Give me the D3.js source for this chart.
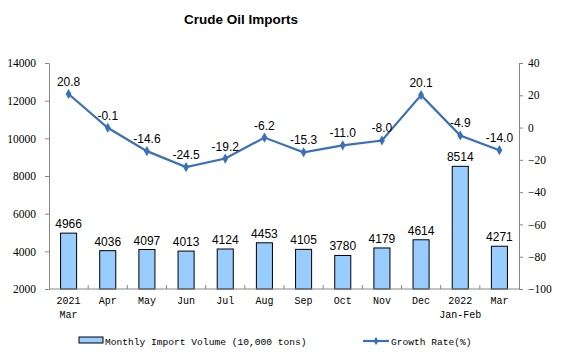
<!DOCTYPE html>
<html><head><meta charset="utf-8">
<script src="https://cdn.jsdelivr.net/npm/d3@7"></script>
<style>body{margin:0;background:#fff}svg{display:block}</style>
</head><body><svg id="c" width="561" height="357"></svg>
<script>
const categories = ["2021\nMar","Apr","May","Jun","Jul","Aug","Sep","Oct","Nov","Dec","2022\nJan-Feb","Mar"];
const importVolume = [4966,4036,4097,4013,4124,4453,4105,3780,4179,4614,8514,4271];
const growthRate = [20.8,-0.1,-14.6,-24.5,-19.2,-6.2,-15.3,-11.0,-8.0,20.1,-4.9,-14.0];
const leftTicks = [2000,4000,6000,8000,10000,12000,14000];
const rightTicks = [-100,-80,-60,-40,-20,0,20,40];

const svg = d3.select("#c");
const L = 49, R = 519, T = 63, B = 289;
const x = d3.scaleBand().domain(d3.range(categories.length)).range([L, R]).paddingInner(0.59).paddingOuter(0.295);
const xb = d3.scaleBand().domain(d3.range(categories.length)).range([L, R]);
const yL = d3.scaleLinear().domain([2000,14000]).range([B, T]);
const yR = d3.scaleLinear().domain([-100,40]).range([B, T]);
const axisCol = "#868686";

svg.append("text").attr("x",241).attr("y",24).attr("text-anchor","middle")
  .attr("font-family","Liberation Sans, Arial").attr("font-weight","bold").attr("font-size",13.5).text("Crude Oil Imports");

const gl = svg.append("g").attr("transform",`translate(${L},0)`).call(d3.axisLeft(yL).tickValues(leftTicks).tickFormat(d3.format("d")).tickSize(4).tickSizeOuter(0).tickPadding(9));
const gr = svg.append("g").attr("transform",`translate(${R},0)`).call(d3.axisRight(yR).tickValues(rightTicks).tickFormat(d3.format("d")).tickSize(4).tickSizeOuter(0).tickPadding(5));
[gl,gr].forEach(g=>{
  g.selectAll("path,line").attr("stroke",axisCol);
  g.selectAll("text").attr("font-family","Liberation Serif, Times New Roman").attr("font-size",11.5).attr("fill","#000");
});

svg.append("g").selectAll("rect").data(importVolume).join("rect")
  .attr("x",(d,i)=>x(i)).attr("width",x.bandwidth())
  .attr("y",d=>yL(d)).attr("height",d=>B-yL(d))
  .attr("fill","#99CCFF").attr("stroke","#000").attr("stroke-width",1);

svg.append("line").attr("x1",L).attr("x2",R).attr("y1",B).attr("y2",B).attr("stroke",axisCol);
svg.append("g").selectAll("line").data(d3.range(1,categories.length)).join("line")
  .attr("x1",i=>xb(i)).attr("x2",i=>xb(i)).attr("y1",B).attr("y2",B-4).attr("stroke",axisCol);

const xl = svg.append("g").selectAll("text").data(categories).join("text")
  .attr("text-anchor","middle").attr("font-family","Liberation Mono, DejaVu Sans Mono").attr("font-size",10)
  .attr("transform",(d,i)=>`translate(${xb(i)+xb.bandwidth()/2},${B+15})`);
xl.each(function(d){
  const lines = d.split("\n");
  d3.select(this).selectAll("tspan").data(lines).join("tspan").attr("x",0).attr("dy",(l,j)=>j?14:0).text(l=>l);
});

svg.append("g").selectAll("text").data(importVolume).join("text")
  .attr("x",(d,i)=>x(i)+x.bandwidth()/2).attr("y",d=>yL(d)-5).attr("text-anchor","middle")
  .attr("font-family","Liberation Sans, Arial").attr("font-size",12).text(d=>d);

const cx = i => xb(i)+xb.bandwidth()/2;
svg.append("path").datum(growthRate)
  .attr("d",d3.line().x((d,i)=>cx(i)).y(d=>yR(d)))
  .attr("fill","none").attr("stroke","#3A70B8").attr("stroke-width",2.2);
svg.append("g").selectAll("path").data(growthRate).join("path")
  .attr("d",d3.symbol(d3.symbolDiamond,30))
  .attr("transform",(d,i)=>`translate(${cx(i)},${yR(d)})`).attr("fill","#3A70B8");
svg.append("g").selectAll("text").data(growthRate).join("text")
  .attr("x",(d,i)=>cx(i)).attr("y",d=>yR(d)-8).attr("text-anchor","middle")
  .attr("font-family","Liberation Sans, Arial").attr("font-size",12).text(d=>d.toFixed(1));

svg.append("rect").attr("x",79).attr("y",337).attr("width",24).attr("height",6).attr("fill","#99CCFF").attr("stroke","#000");
svg.append("text").attr("x",105).attr("y",345).attr("font-family","Liberation Mono, DejaVu Sans Mono").attr("font-size",9.6).text("Monthly Import Volume (10,000 tons)");
svg.append("line").attr("x1",363).attr("x2",389).attr("y1",341).attr("y2",341).attr("stroke","#3A70B8").attr("stroke-width",2.2);
svg.append("path").attr("d",d3.symbol(d3.symbolDiamond,20)).attr("transform","translate(376,341)").attr("fill","#3A70B8");
svg.append("text").attr("x",391).attr("y",345).attr("font-family","Liberation Mono, DejaVu Sans Mono").attr("font-size",9.6).text("Growth Rate(%)");
</script></body></html>
